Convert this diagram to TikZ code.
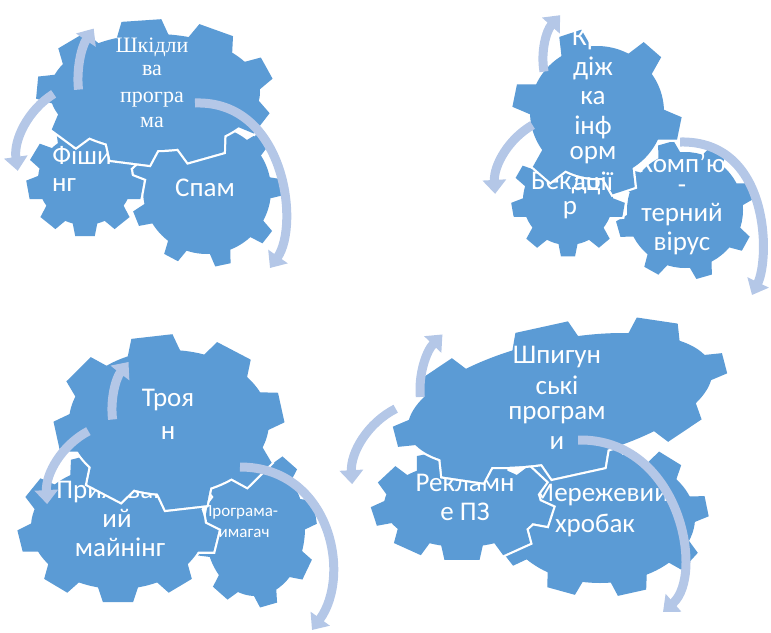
\documentclass[tikz,border=0pt]{standalone}
\usepackage{fontspec}
\setmainfont{Carlito}
\newfontfamily\serifw{Liberation Serif}
\usetikzlibrary{arrows.meta}
\definecolor{gearblue}{HTML}{5B9BD5}
\definecolor{arrblue}{HTML}{B4C7E7}
\tikzset{
 gout/.style={draw=white, fill=white, line width=4.5pt},
 gin/.style={fill=gearblue, draw=none},
 arr/.style={draw=arrblue, line width=9pt, -{Triangle[width=23pt,length=14pt]}},
 lbl/.style={text=white, inner sep=0pt, font=\fontsize{27}{32}\selectfont},
 lbls/.style={text=white, inner sep=0pt, font=\fontsize{17}{20}\selectfont},
 lblserif/.style={text=white, inner sep=0pt, font=\serifw\fontsize{22}{26}\selectfont},
}
\newcommand\gteeth[3]{\def\gh{#1}\def\gdb{#2}\def\gdt{#3}}
\newcommand\drawgear[7]{%
 \begin{scope}[shift={(#1,#2)},rotate=#5]
  \foreach \pass in {1,2}{%
   \ifnum\pass=1\relax\tikzset{gcur/.style={gout}}\else\tikzset{gcur/.style={gin}}\fi
   \path[gcur] (0,0) ellipse[x radius=#3, y radius=#4];
   \foreach \k in {1,...,#6}{%
     \pgfmathsetmacro\ta{#7+(\k-1)*360/#6}%
     \pgfmathsetmacro\nx{#4*cos(\ta)/100}%
     \pgfmathsetmacro\ny{#3*sin(\ta)/100}%
     \pgfmathsetmacro\nl{sqrt(\nx*\nx+\ny*\ny)}%
     \pgfmathsetmacro\ux{\nx/\nl}%
     \pgfmathsetmacro\uy{\ny/\nl}%
     \path[gcur] ({#3*cos(\ta-\gdb)-3*\ux},{#4*sin(\ta-\gdb)-3*\uy})
       -- ({#3*cos(\ta-\gdt)+\gh*\ux},{#4*sin(\ta-\gdt)+\gh*\uy})
       -- ({#3*cos(\ta+\gdt)+\gh*\ux},{#4*sin(\ta+\gdt)+\gh*\uy})
       -- ({#3*cos(\ta+\gdb)-3*\ux},{#4*sin(\ta+\gdb)-3*\uy}) -- cycle;
   }%
  }%
 \end{scope}}
\begin{document}
\begin{tikzpicture}[x=1pt,y=-1pt]
\useasboundingbox (0,0) rectangle (771,632);
% ---------- cluster 1 ----------
\gteeth{13}{10}{7}\drawgear{207}{190}{64}{64}{0}{9}{-2}
\node[lbl] (spam) at (205,188) {Спам};
\gteeth{12}{16}{12}\drawgear{85}{180}{47}{45}{0}{9}{90}
\node[lbl] (fish1) at (82,155) {Фіши};
\node[lbl] (fish2) at (64,185) {нг};
\gteeth{15}{15}{11}\drawgear{155}{92}{105}{58}{0}{9}{-97}
\node[lblserif] (mal1) at (152,47) {Шкідли};
\node[lblserif] (mal2) at (152,70) {ва};
\node[lblserif] (mal3) at (152,100) {програ};
\node[lblserif] (mal4) at (152,122) {ма};
\coordinate (c1a) at (170,80);
\draw[arr] (c1a) ++(174:92) arc[start angle=174,end angle=214,radius=92];
\coordinate (c1b) at (95,160);
\draw[arr] (c1b) ++(238:78) arc[start angle=238,end angle=172,radius=78];
\coordinate (s1) at (195,103); \coordinate (e1) at (270,268);
\draw[arr] (s1) .. controls (285,100) and (300,225) .. (e1);
% ---------- cluster 2 ----------
\gteeth{12}{12}{8}\drawgear{685}{210}{58}{58}{0}{8}{-61}
\node[lbl] (vir1) at (682,163) {Комп'ю};
\node[lbl] (vir2) at (682,189) {-};
\node[lbl] (vir3) at (682,215) {терний};
\node[lbl] (vir4) at (682,243) {вірус};
\gteeth{12}{13}{9}\drawgear{568}{200}{45}{45}{0}{9}{90}
\node[lbl] (bd1) at (566,183) {Бекдо};
\node[lbl] (bd2) at (570,210) {р};
\gteeth{18}{14}{10}\drawgear{597}{112}{67}{66}{0}{6}{-108.6}
\node[lbl] (kr1) at (593,39) {Кра};
\node[lbl] (kr2) at (593,68) {діж};
\node[lbl] (kr3) at (593,98) {ка};
\node[lbl] (kr4) at (593,127) {інф};
\node[lbl] (kr5) at (593,155) {орм};
\node[lbl] (kr6) at (593,183) {ації};
\coordinate (c2a) at (610,60);
\draw[arr] (c2a) ++(170:67) arc[start angle=170,end angle=222,radius=67];
\coordinate (c2b) at (570,190);
\draw[arr] (c2b) ++(240:75) arc[start angle=240,end angle=177,radius=75];
\coordinate (s2) at (680,142); \coordinate (e2) at (752,295);
\draw[arr] (s2) .. controls (770,140) and (770,258) .. (e2);
% ---------- cluster 3 ----------
\gteeth{12}{14}{10}\drawgear{255}{528}{50}{68}{0}{8}{78}
\node[lbls] (rw1) at (240,512) {Програма-};
\node[lbls] (rw2) at (240,533) {вимагач};
\gteeth{14}{14}{10}\drawgear{118}{527}{87}{62}{0}{9}{90}
\node[lbl] (mn1) at (112,492) {Прихован};
\node[lbl] (mn2) at (117,518) {ий};
\node[lbl] (mn3) at (120,547) {майнінг};
\gteeth{16}{16}{12}\drawgear{169}{422}{100}{72}{0}{8}{-99}
\node[lbl] (tr1) at (168,400) {Троя};
\node[lbl] (tr2) at (168,433) {н};
\coordinate (c3a) at (190,410);
\draw[arr] (c3a) ++(173:78) arc[start angle=173,end angle=218,radius=78];
\coordinate (c3b) at (125,500);
\draw[arr] (c3b) ++(242:78) arc[start angle=242,end angle=177,radius=78];
\coordinate (s3) at (240,467); \coordinate (e3) at (312,630);
\draw[arr] (s3) .. controls (330,467) and (352,575) .. (e3);
% ---------- cluster 4 ----------
\gteeth{14}{12}{9}\drawgear{600}{518}{95}{65}{0}{9}{72}
\node[lbl] (wm1) at (600,495) {Мережевий};
\node[lbl] (wm2) at (595,525) {хробак};
\gteeth{14}{16}{13}\drawgear{462}{505}{78}{42}{0}{9}{90}
\node[lbl] (ad1) at (465,483) {Рекламн};
\node[lbl] (ad2) at (465,512) {е ПЗ};
\gteeth{16}{13}{10}\drawgear{560}{400}{155}{60}{12}{8}{-91}
\node[lbl] (sp1) at (557,357) {Шпигун};
\node[lbl] (sp2) at (557,385) {ські};
\node[lbl] (sp3) at (557,415) {програм};
\node[lbl] (sp4) at (557,443) {и};
\coordinate (c4a) at (500,390);
\draw[arr] (c4a) ++(175:80) arc[start angle=175,end angle=224,radius=80];
\coordinate (c4b) at (432,480);
\draw[arr] (c4b) ++(243:80) arc[start angle=243,end angle=177,radius=80];
\coordinate (s4) at (578,440); \coordinate (e4) at (663,612);
\draw[arr] (s4) .. controls (680,438) and (705,575) .. (e4);
\end{tikzpicture}
\end{document}
